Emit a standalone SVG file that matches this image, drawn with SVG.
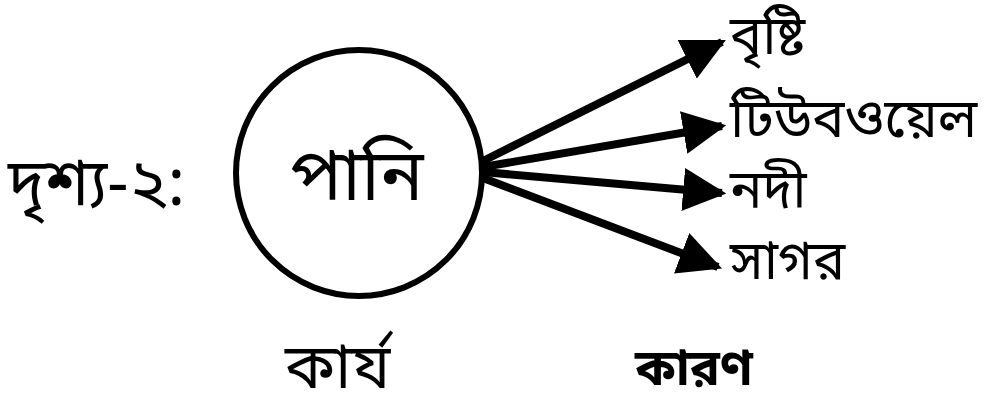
<svg xmlns="http://www.w3.org/2000/svg" width="984" height="415" viewBox="0 0 984 415">
<defs>
<style>
text{font-family:"Noto Sans Bengali","Noto Serif Bengali","Lohit Bengali","Noto Sans","DejaVu Sans",sans-serif;fill:#000}
.lbl{font-size:54px}
.conn line{stroke:#000;stroke-width:8;stroke-linecap:butt}
</style>
<marker id="ah" viewBox="0 0 10 10" refX="9" refY="5" markerWidth="5.4" markerHeight="5.4" orient="auto" markerUnits="strokeWidth">
<path d="M0,0 L10,5 L0,10 z" fill="#000"/>
</marker>
</defs>
<rect width="984" height="415" fill="#fff"/>
<g id="title"><text x="8" y="205" font-size="66">দৃশ্য-২:</text></g>
<g id="node-pani">
<circle cx="359" cy="173" r="123" fill="#fff" stroke="#000" stroke-width="6"/>
<text x="357" y="200" font-size="72" text-anchor="middle">পানি</text>
</g>
<g id="conn" class="conn">
<line x1="483" y1="161" x2="722" y2="42" marker-end="url(#ah)"/>
<line x1="483" y1="167" x2="722" y2="126" marker-end="url(#ah)"/>
<line x1="483" y1="172" x2="722" y2="193" marker-end="url(#ah)"/>
<line x1="483" y1="178" x2="718" y2="267" marker-end="url(#ah)"/>
</g>
<g id="n1"><text class="lbl" x="730" y="54">বৃষ্টি</text></g>
<g id="n2"><text class="lbl" x="730" y="137">টিউবওয়েল</text></g>
<g id="n3"><text class="lbl" x="730" y="208">নদী</text></g>
<g id="n4"><text class="lbl" x="730" y="279">সাগর</text></g>
<g id="lbl-karjo"><text x="285" y="388" font-size="62">কার্য</text></g>
<g id="lbl-karon"><text x="635" y="385" font-size="50" font-weight="bold">কারণ</text></g>
</svg>
